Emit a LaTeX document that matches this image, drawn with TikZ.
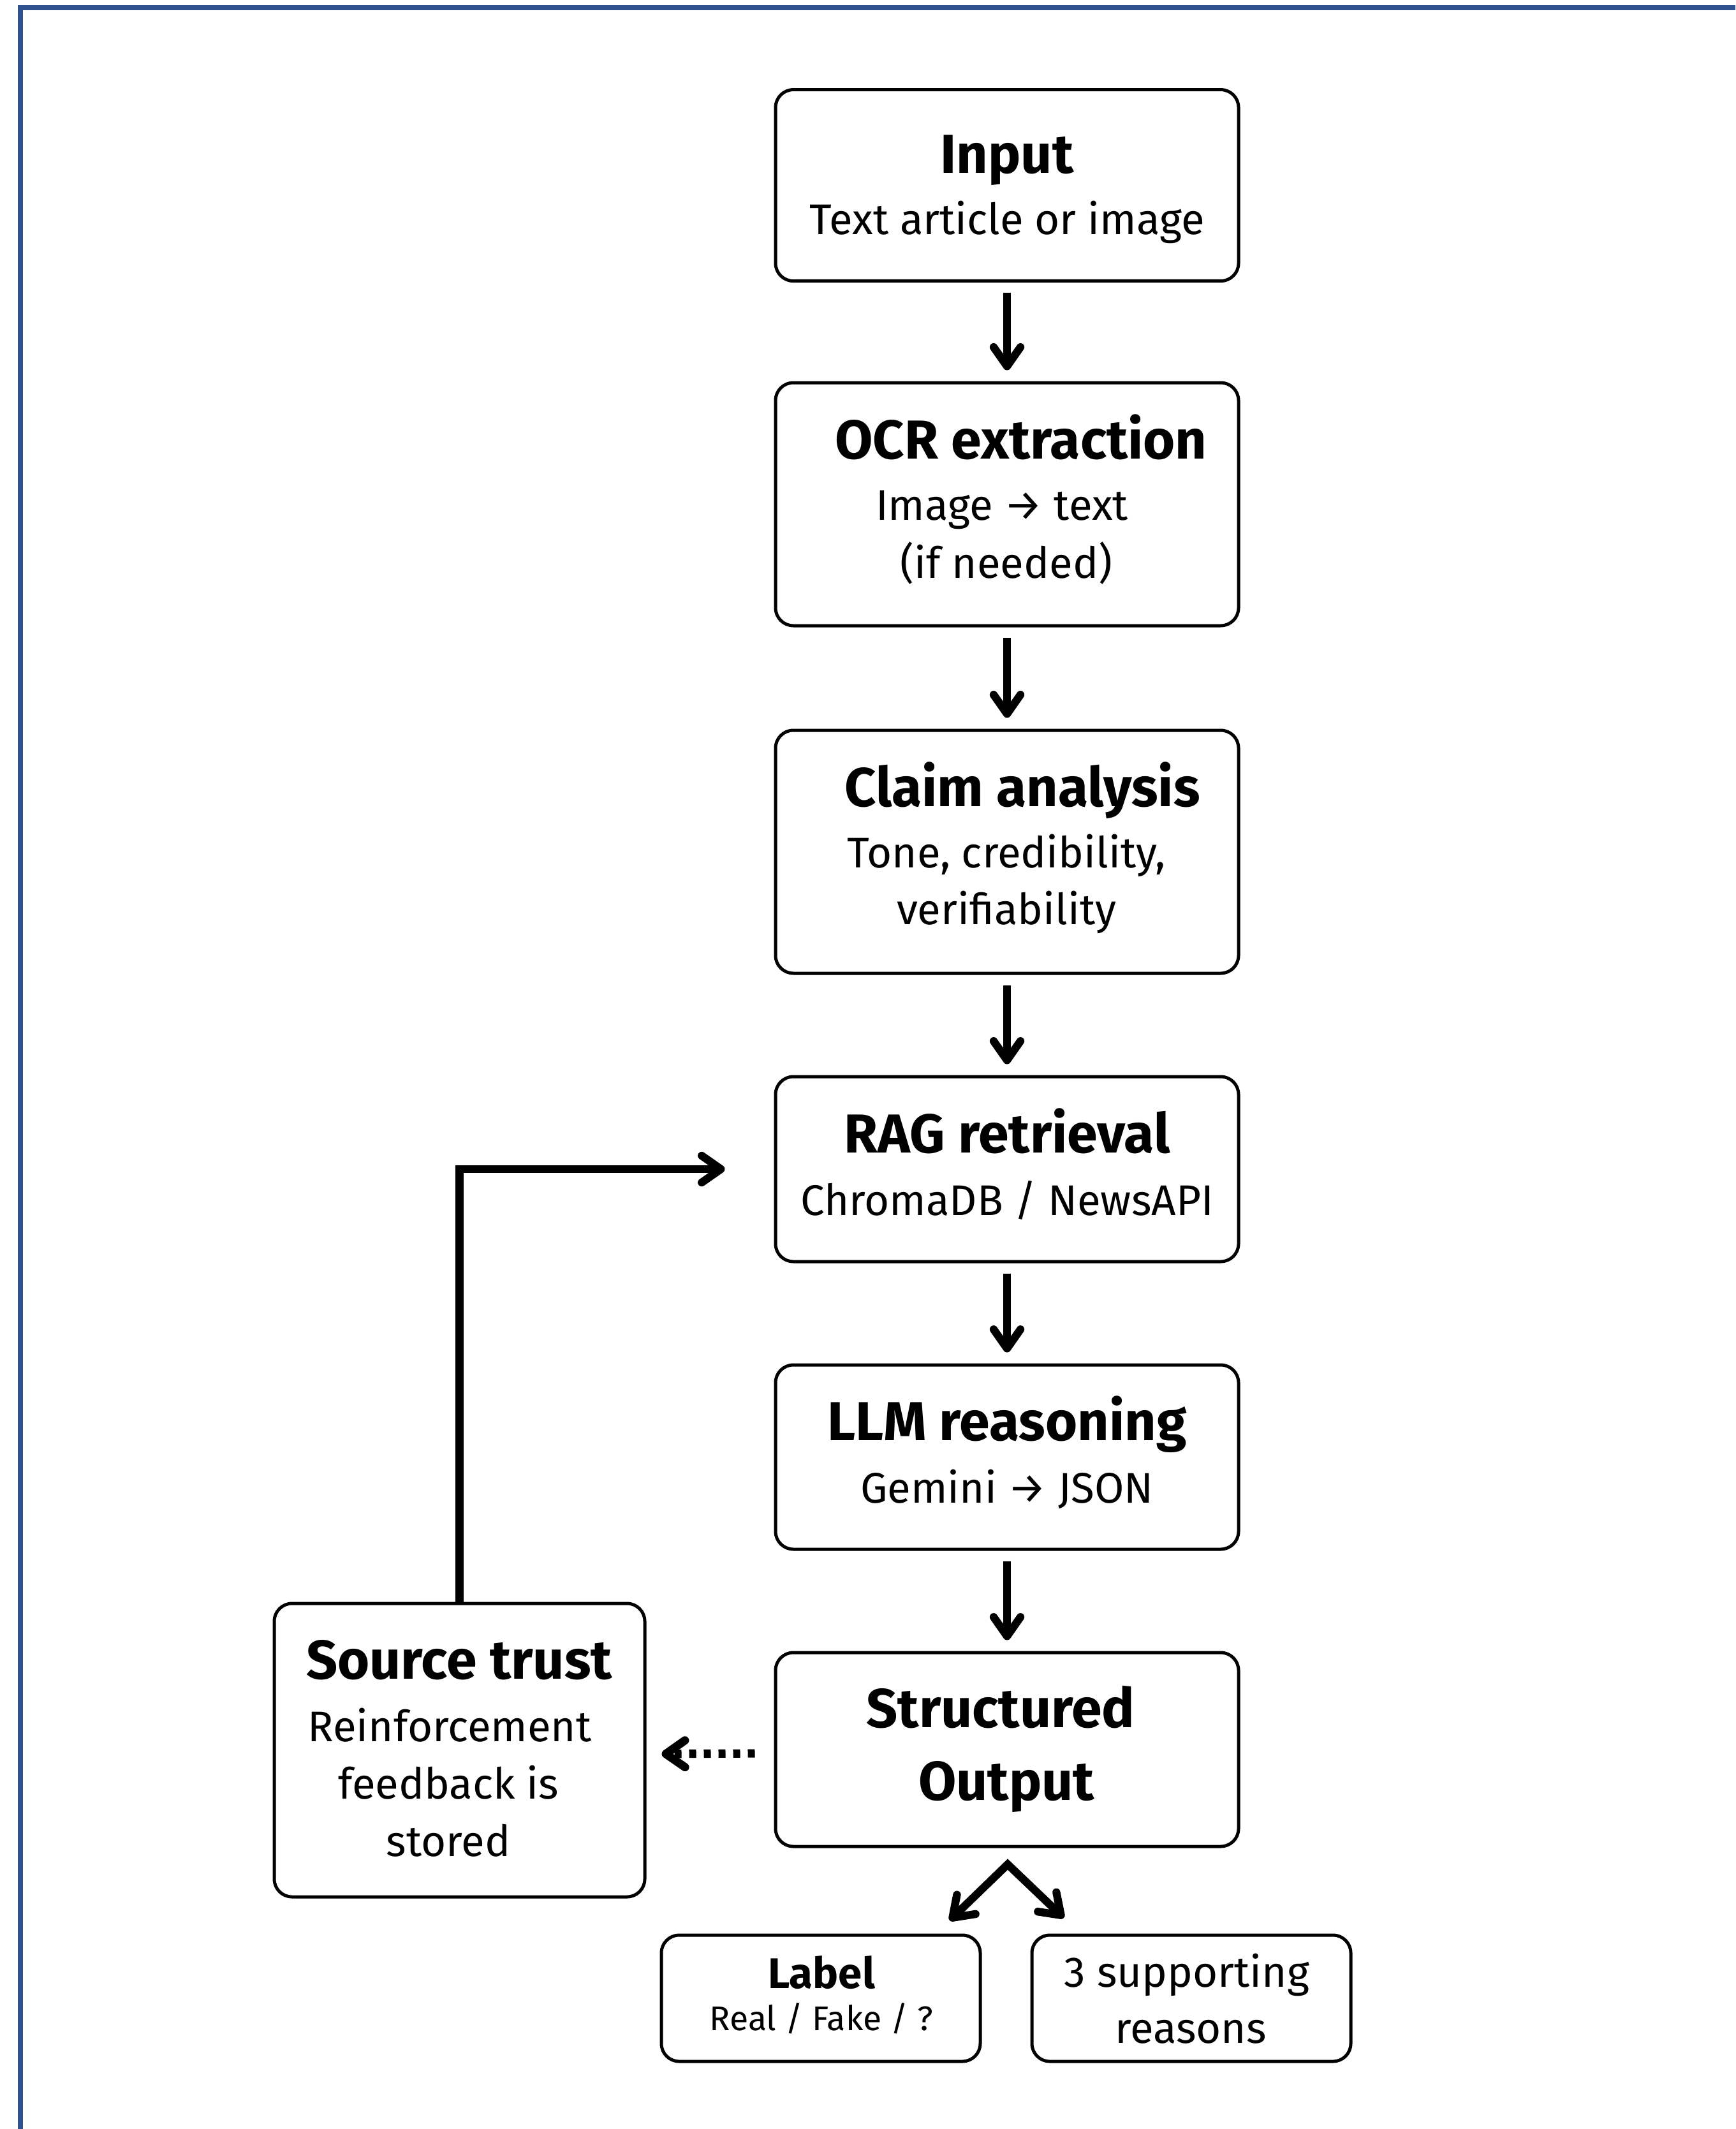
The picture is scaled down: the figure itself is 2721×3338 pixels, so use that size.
\documentclass[tikz,border=0pt]{standalone}
\usepackage{fontspec}
\setmainfont{Fira Sans}
\usetikzlibrary{arrows.meta}
\definecolor{frameblue}{RGB}{47,82,143}
\begin{document}
\begin{tikzpicture}[x=0.25pt,y=-0.25pt,
  box/.style={draw, line width=1.25pt, rounded corners=7pt, inner sep=0pt, minimum width=181.5pt},
  ttl/.style={anchor=base, inner sep=0pt, font=\fontsize{21.5}{25}\selectfont\bfseries},
  sub/.style={anchor=base, inner sep=0pt, font=\fontsize{16.8}{20}\selectfont},
  small/.style={anchor=base, inner sep=0pt, font=\fontsize{13.4}{16}\selectfont},
  smallttl/.style={anchor=base, inner sep=0pt, font=\fontsize{16.8}{20}\selectfont\bfseries},
  barb/.tip={Straight Barb[round, length=7.5pt, width=10.5pt]},
  flow/.style={line width=3.1pt, -barb, shorten <=4pt, shorten >=4.25pt},
  dotflow/.style={line width=3.25pt, dash pattern=on 2.75pt off 3pt, -barb},
]
\fill[white] (0,0) rectangle (2721,3338);
\useasboundingbox (0,0) rectangle (2721,3338);
\fill[frameblue] (28,8) rectangle (2721,16);
\fill[frameblue] (28,8) rectangle (36,3338);

% boxes
\node[box, minimum height=75pt] (in) at (1579,290.6) {};
\node[box, minimum height=95.25pt] (ocr) at (1579,790.5) {};
\node[box, minimum height=95.25pt] (claim) at (1579,1335.5) {};
\node[box, minimum height=72.5pt] (rag) at (1579,1833) {};
\node[box, minimum height=72.25pt] (llm) at (1579,2284.5) {};
\node[box, minimum height=76pt] (so) at (1579,2743) {};
\node[box, minimum width=145.25pt, minimum height=115pt] (src) at (720.5,2744) {};
\node[box, minimum width=125pt, minimum height=49.5pt] (lab) at (1287,3133) {};
\node[box, minimum width=125pt, minimum height=49.5pt] (rsn) at (1868,3133) {};

% texts
\node[ttl] (inT) at (1579,272) {Input};
\node[sub] (inS) at (1579,368) {Text article or image};
\node[ttl] (ocrT) at (1601,719) {OCR extraction};
\node[sub] (ocrS1) at (1571,815) {Image → text};
\node[sub] (ocrS2) at (1578,906) {(if needed)};
\node[ttl] (clT) at (1603,1264) {Claim analysis};
\node[sub] (clS1) at (1578,1360) {Tone, credibility,};
\node[sub] (clS2) at (1578,1449) {verifiability};
\node[ttl] (ragT) at (1579,1807) {RAG retrieval};
\node[sub] (ragS) at (1579,1905) {ChromaDB / NewsAPI};
\node[ttl] (llmT) at (1579,2258) {LLM reasoning};
\node[sub] (llmS) at (1579,2356) {Gemini → JSON};
\node[ttl] (soT1) at (1569,2708) {Structured};
\node[ttl] (soT2) at (1578,2822) {Output};
\node[ttl] (srcT) at (720,2632) {Source trust};
\node[sub] (srcS1) at (705,2730) {Reinforcement};
\node[sub] (srcS2) at (703,2820) {feedback is};
\node[sub] (srcS3) at (703,2910) {stored};
\node[smallttl] (labT) at (1288,3117) {Label};
\node[small] (labS) at (1288,3183) {Real / Fake / ?};
\node[sub] (rsnS1) at (1861,3115) {3 supporting};
\node[sub] (rsnS2) at (1867,3203) {reasons};

% connectors
\draw[flow] (in.south) -- (ocr.north);
\draw[flow] (ocr.south) -- (claim.north);
\draw[flow] (claim.south) -- (rag.north);
\draw[flow] (rag.south) -- (llm.north);
\draw[flow] (llm.south) -- (so.north);
\draw[line width=3.1pt, -barb, shorten >=19.25pt] (src.north) |- (rag.west);
\draw[dotflow, shorten <=7.5pt, shorten >=6pt] ([yshift=-1.5pt]so.west) -- ([yshift=-1.5pt]src.east);
\coordinate (apex) at (1580,2923);
\coordinate (bl) at (1489,3011);
\coordinate (br) at (1668,3007);
\draw[line width=3.1pt, barb-barb] (bl) -- (apex) -- (br);
\end{tikzpicture}
\end{document}
